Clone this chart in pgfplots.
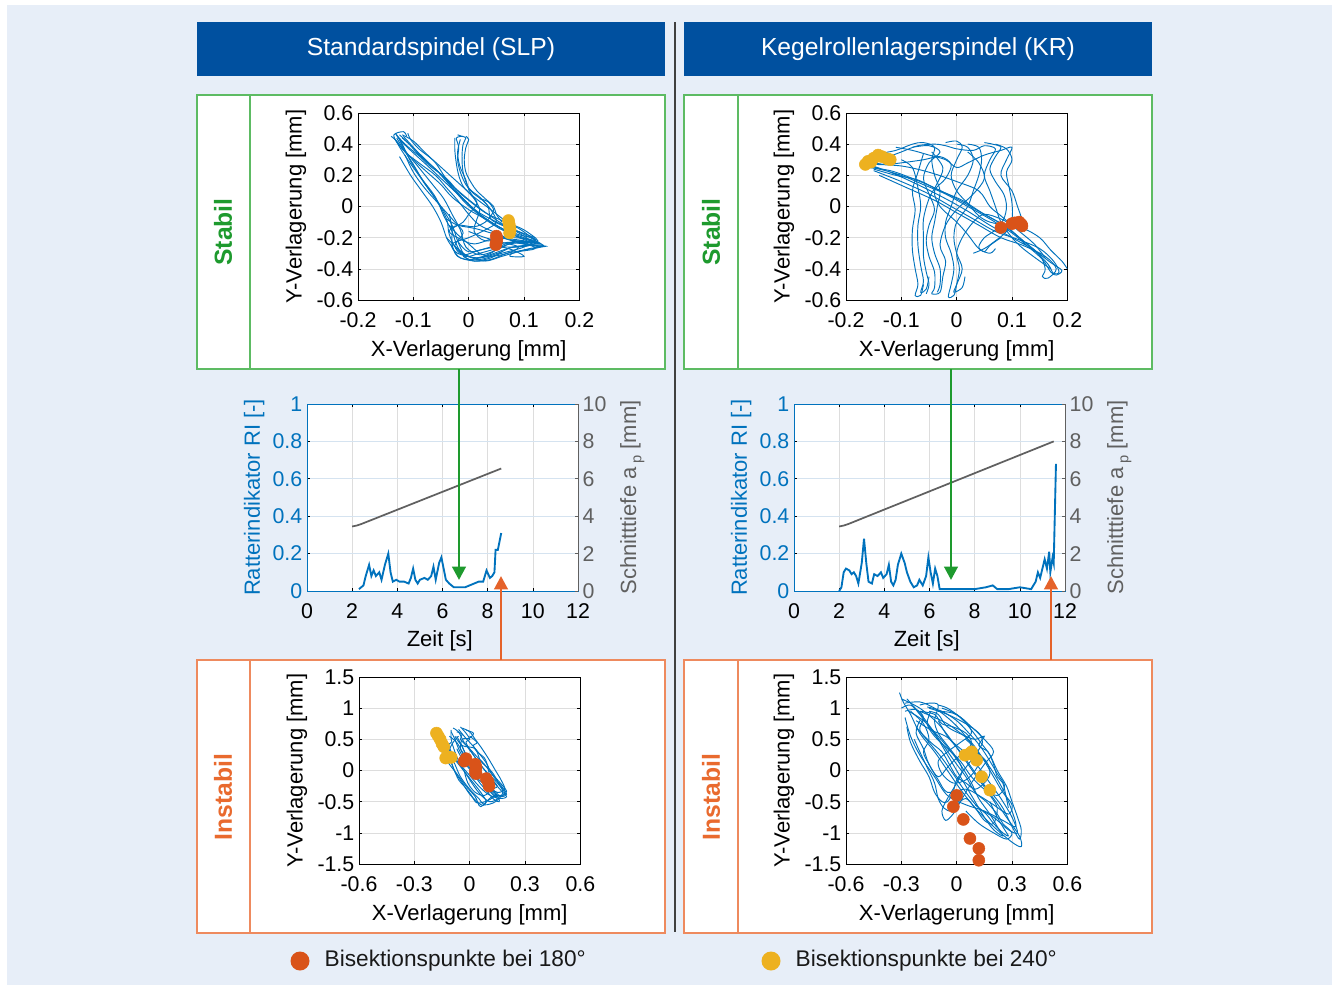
\documentclass[border=0pt]{standalone}
\usepackage{pgfplots}
\pgfplotsset{compat=1.18}
\usepackage{fontspec}
\setmainfont{Liberation Sans}
\usetikzlibrary{arrows.meta}
\definecolor{bg}{HTML}{E7EEF8}
\definecolor{hdr}{HTML}{00509F}
\definecolor{mblue}{HTML}{0072BD}
\definecolor{mred}{HTML}{D95319}
\definecolor{myel}{HTML}{EDB120}
\definecolor{gframe}{HTML}{5DBB63}
\definecolor{oframe}{HTML}{EE8A5E}
\definecolor{gtext}{HTML}{1E9A2E}
\definecolor{otext}{HTML}{E96A2E}
\definecolor{garrow}{HTML}{1E9A2E}
\definecolor{oarrow}{HTML}{E5622A}
\definecolor{dgrey}{HTML}{606060}
\definecolor{gridc}{HTML}{DDDDDD}
\definecolor{gridb}{HTML}{D5E3F0}

\pgfplotsset{
 common/.style={
   scale only axis,
   axis background/.style={fill=white},
   tick align=inside, major tick length=2.5pt,
   tick style={black, line width=0.5pt},
   axis line style={line width=0.6pt},
   ticklabel style={font=\fontsize{16}{18}\selectfont},
   label style={font=\fontsize{16.5}{19}\selectfont},
   /pgf/number format/assume math mode=true,
   grid=major,
   major grid style={gridc, line width=0.5pt},
 },
 orbit/.style={common, width=166pt, height=140.25pt,
   xlabel={X-Verlagerung [mm]}, ylabel={Y-Verlagerung [mm]},
   xlabel style={at={(axis description cs:0.5,-0.27)}, anchor=center},
   ylabel style={at={(axis description cs:-0.28,0.5)}, anchor=center},
   xticklabel style={yshift=-6pt},
 },
 orbS/.style={orbit, xmin=-0.2, xmax=0.2, ymin=-0.6, ymax=0.6,
   xtick={-0.2,-0.1,0,0.1,0.2}, ytick={-0.6,-0.4,-0.2,0,0.2,0.4,0.6}},
 orbI/.style={orbit, xmin=-0.6, xmax=0.6, ymin=-1.5, ymax=1.5,
   xtick={-0.6,-0.3,0,0.3,0.6}, ytick={-1.5,-1,-0.5,0,0.5,1,1.5},
   xlabel style={at={(axis description cs:0.5,-0.27)}, anchor=center}},
 orb/.style={mblue, line width=0.7pt, smooth, tension=0.55, no marks},
 bisR/.style={only marks, mark=*, mark size=4.5pt, mark options={draw=mred, fill=mred}},
 bisY/.style={only marks, mark=*, mark size=4.5pt, mark options={draw=myel, fill=myel}},
 timeL/.style={common, width=203.25pt, height=140.25pt,
   xmin=0, xmax=12, ymin=0, ymax=1,
   xtick={0,2,4,6,8,10,12}, ytick={0,0.2,0.4,0.6,0.8,1},
   ytick pos=left,
   x grid style={gridc}, y grid style={gridb},
   y axis line style={mblue},
   yticklabel style={mblue},
   xticklabel style={yshift=-6pt},
   xlabel={Zeit [s]}, ylabel={Ratterindikator RI [-]},
   ylabel style={mblue, at={(axis description cs:-0.195,0.5)}, anchor=center},
   xlabel style={at={(axis description cs:0.49,-0.265)}, anchor=center},
 },
 timeR/.style={common, grid=none, width=203.25pt, height=140.25pt,
   axis background/.style={},
   xmin=0, xmax=12, ymin=0, ymax=10,
   axis x line=none, axis y line*=right,
   ytick={0,2,4,6,8,10},
   y axis line style={dgrey}, tick style={dgrey},
   yticklabel style={dgrey},
   ylabel={Schnitttiefe a\,\raisebox{-0.45ex}{\fontsize{11}{11}\selectfont p} [mm]},
   ylabel style={dgrey, at={(axis description cs:1.2,0.5)}, anchor=center},
 },
}

\begin{document}
\begin{tikzpicture}
\begin{scope}[x=0.75pt,y=-0.75pt]
\fill[white] (0,0) rectangle (1338,985);
\fill[bg] (7,5) rectangle (1332,985);
\fill[hdr] (197,22) rectangle (665,76);
\fill[hdr] (684,22) rectangle (1152,76);
\node[white,font=\fontsize{18.5}{20}\selectfont] at (431,49) {Standardspindel (SLP)};
\node[white,font=\fontsize{18.5}{20}\selectfont] at (918,49) {Kegelrollenlagerspindel (KR)};
\draw[black!75, line width=1pt] (675,22) -- (675,932);
\draw[gframe, line width=1pt, fill=white] (197,95) rectangle (665,369);
\draw[gframe, line width=1pt] (250,95) -- (250,369);
\draw[gframe, line width=1pt, fill=white] (684,95) rectangle (1152,369);
\draw[gframe, line width=1pt] (738,95) -- (738,369);
\draw[oframe, line width=1pt, fill=white] (197,660) rectangle (665,933);
\draw[oframe, line width=1pt] (250,660) -- (250,933);
\draw[oframe, line width=1pt, fill=white] (684,660) rectangle (1152,933);
\draw[oframe, line width=1pt] (738,660) -- (738,933);
\node[rotate=90, gtext, font=\bfseries\fontsize{18.5}{20}\selectfont] at (223,232) {Stabil};
\node[rotate=90, gtext, font=\bfseries\fontsize{18.5}{20}\selectfont] at (711,232) {Stabil};
\node[rotate=90, otext, font=\bfseries\fontsize{18.5}{20}\selectfont] at (223,797) {Instabil};
\node[rotate=90, otext, font=\bfseries\fontsize{18.5}{20}\selectfont] at (711,797) {Instabil};
\end{scope}

% ---------- top left: SLP stable ----------
\begin{axis}[orbS, at={(358*0.75pt,-300*0.75pt)}, anchor=south west]
\addplot[orb] coordinates {(-0.132,0.47) (-0.125,0.43) (-0.105,0.36) (-0.08,0.28) (-0.05,0.18) (-0.02,0.08) (0.01,-0.02) (0.04,-0.10) (0.07,-0.16) (0.10,-0.20) (0.135,-0.25) (0.10,-0.25) (0.07,-0.27) (0.03,-0.32) (0.0,-0.34) (-0.01,-0.30) (-0.02,-0.22) (-0.03,-0.12) (-0.05,0.0) (-0.07,0.10) (-0.09,0.20) (-0.11,0.30) (-0.128,0.40) (-0.135,0.46) (-0.118,0.48) (-0.112,0.45)};
\addplot[orb] coordinates {(-0.118,0.45) (-0.10,0.38) (-0.085,0.32) (-0.06,0.24) (-0.035,0.15) (-0.01,0.05) (0.02,-0.05) (0.05,-0.12) (0.08,-0.18) (0.12,-0.23) (0.13,-0.24) (0.09,-0.22) (0.06,-0.25) (0.04,-0.30) (0.01,-0.33) (-0.02,-0.28) (-0.035,-0.18) (-0.04,-0.08) (-0.06,0.05) (-0.08,0.15) (-0.10,0.27) (-0.12,0.38) (-0.13,0.44)};
\addplot[orb] coordinates {(-0.125,0.46) (-0.11,0.41) (-0.09,0.33) (-0.07,0.26) (-0.04,0.18) (-0.02,0.10) (0.0,0.04) (0.03,-0.04) (0.06,-0.09) (0.09,-0.14) (0.11,-0.19) (0.12,-0.22) (0.08,-0.23) (0.05,-0.28) (0.02,-0.31) (-0.005,-0.26) (-0.015,-0.15) (-0.03,-0.05) (-0.045,0.05) (-0.065,0.14) (-0.09,0.25) (-0.115,0.36) (-0.125,0.43)};
\addplot[orb] coordinates {(-0.12,0.44) (-0.095,0.36) (-0.075,0.29) (-0.055,0.22) (-0.03,0.12) (-0.005,0.02) (0.025,-0.07) (0.055,-0.14) (0.085,-0.19) (0.115,-0.24) (0.09,-0.26) (0.05,-0.26) (0.02,-0.28) (-0.01,-0.31) (-0.025,-0.25) (-0.01,-0.17) (-0.025,-0.1) (-0.055,0.02) (-0.08,0.12) (-0.10,0.22) (-0.115,0.33)};
\addplot[orb] coordinates {(-0.128,0.45) (-0.115,0.40) (-0.095,0.34) (-0.07,0.27) (-0.045,0.19) (-0.025,0.12) (0.005,0.03) (0.035,-0.05) (0.065,-0.12) (0.095,-0.17) (0.125,-0.23) (0.10,-0.23) (0.075,-0.24) (0.05,-0.27) (0.02,-0.30) (-0.005,-0.32) (-0.02,-0.26) (-0.03,-0.16) (-0.045,-0.06) (-0.06,0.06) (-0.085,0.18) (-0.105,0.29) (-0.12,0.40) (-0.13,0.46)};
\addplot[orb] coordinates {(-0.135,0.44) (-0.12,0.37) (-0.10,0.30) (-0.075,0.22) (-0.05,0.14) (-0.03,0.06) (0.0,-0.02) (0.03,-0.08) (0.06,-0.14) (0.09,-0.18) (0.12,-0.21) (0.10,-0.26) (0.06,-0.30) (0.02,-0.34) (-0.015,-0.33) (-0.03,-0.26) (-0.04,-0.20) (-0.05,-0.10) (-0.065,0.0) (-0.085,0.10) (-0.105,0.20) (-0.125,0.32)};
\addplot[orb] coordinates {(-0.14,0.45) (-0.13,0.42) (-0.115,0.35) (-0.09,0.28) (-0.06,0.20) (-0.04,0.12) (-0.02,0.04) (0.0,-0.05) (0.02,-0.12) (0.05,-0.17) (0.08,-0.22) (0.11,-0.25) (0.13,-0.26) (0.10,-0.28) (0.07,-0.30) (0.04,-0.34) (0.01,-0.35) (-0.02,-0.32) (-0.03,-0.24) (-0.03,-0.15) (-0.035,-0.05)};
\addplot[orb] coordinates {(-0.12,0.46) (-0.10,0.42) (-0.08,0.35) (-0.06,0.28) (-0.045,0.20) (-0.03,0.12) (-0.01,0.05) (0.015,-0.03) (0.045,-0.09) (0.075,-0.14) (0.10,-0.19) (0.12,-0.24)};
\addplot[orb] coordinates {(-0.11,0.47) (-0.105,0.43) (-0.09,0.37) (-0.065,0.30) (-0.04,0.22) (-0.015,0.14) (0.01,0.06) (0.04,-0.02) (0.07,-0.10) (0.10,-0.15) (0.125,-0.22) (0.11,-0.25) (0.08,-0.26) (0.06,-0.29) (0.04,-0.33) (0.01,-0.35) (-0.01,-0.32)};
\addplot[orb] coordinates {(-0.04,-0.20) (-0.02,-0.27) (0.0,-0.32) (0.03,-0.35) (0.06,-0.32) (0.09,-0.29) (0.12,-0.27) (0.10,-0.23) (0.07,-0.21) (0.04,-0.17) (0.01,-0.14) (-0.02,-0.12) (-0.04,-0.08)};
\addplot[orb] coordinates {(-0.035,-0.12) (-0.02,-0.18) (0.0,-0.24) (0.02,-0.30) (0.04,-0.32) (0.07,-0.30) (0.09,-0.26) (0.06,-0.23) (0.03,-0.20) (0.0,-0.16)};
\addplot[orb] coordinates {(0.06,-0.20) (0.09,-0.23) (0.12,-0.25) (0.14,-0.255) (0.11,-0.27) (0.08,-0.30) (0.075,-0.32) (0.10,-0.32) (0.08,-0.28) (0.05,-0.25)};
\addplot[orb] coordinates {(-0.02,0.46) (-0.012,0.45) (-0.005,0.44) (-0.01,0.40) (-0.012,0.32) (-0.01,0.22) (0.0,0.12) (0.02,0.06) (0.035,0.0) (0.04,-0.08) (0.06,-0.12) (0.09,-0.16) (0.12,-0.2)};
\addplot[orb] coordinates {(-0.01,0.45) (-0.022,0.44) (-0.018,0.38) (-0.02,0.30) (-0.015,0.22) (-0.005,0.14) (0.01,0.08) (0.025,0.04) (0.04,-0.02) (0.05,-0.10) (0.03,-0.15) (0.0,-0.2) (-0.03,-0.24) (-0.02,-0.3) (0.02,-0.33) (0.06,-0.29)};
\addplot[orb] coordinates {(-0.015,0.43) (-0.02,0.35) (-0.016,0.26) (-0.005,0.17) (0.0,0.11) (0.01,0.05) (0.02,-0.02) (0.015,-0.08) (0.01,-0.16) (0.03,-0.22) (0.07,-0.2) (0.11,-0.21) (0.13,-0.24) (0.10,-0.24) (0.07,-0.23) (0.04,-0.26) (0.0,-0.29) (-0.02,-0.22)};
\addplot[orb] coordinates {(-0.005,0.45) (0.0,0.43) (-0.005,0.38) (-0.008,0.30) (-0.005,0.22) (0.005,0.15) (0.015,0.10) (0.03,0.05) (0.045,0.0) (0.05,-0.05) (0.06,-0.10)};
\addplot[orb] coordinates {(-0.025,0.44) (-0.025,0.36) (-0.022,0.27) (-0.018,0.20) (-0.01,0.13) (0.005,0.07) (0.015,0.02) (0.0,-0.05) (-0.01,-0.10) (-0.03,-0.14)};
\addplot[orb] coordinates {(0.02,0.05) (0.035,0.03) (0.045,-0.02) (0.04,-0.06) (0.03,-0.1) (0.01,-0.13) (-0.02,-0.12) (-0.035,-0.16) (-0.02,-0.2) (0.01,-0.24) (0.05,-0.2) (0.08,-0.21) (0.10,-0.22)};
\addplot[bisY] coordinates {(0.072,-0.09) (0.073,-0.11) (0.074,-0.13) (0.075,-0.15) (0.074,-0.17)};
\addplot[bisR] coordinates {(0.05,-0.19) (0.051,-0.21) (0.05,-0.23) (0.049,-0.245)};
\end{axis}

% ---------- top right: KR stable ----------
\begin{axis}[orbS, at={(846*0.75pt,-300*0.75pt)}, anchor=south west]
\addplot[orb] coordinates {(-0.165,0.26) (-0.14,0.24) (-0.10,0.20) (-0.06,0.14) (-0.02,0.08) (0.02,0.0) (0.06,-0.08) (0.10,-0.17) (0.13,-0.26) (0.155,-0.34) (0.17,-0.42) (0.18,-0.44) (0.19,-0.41) (0.17,-0.36) (0.14,-0.28) (0.10,-0.20) (0.06,-0.12) (0.02,-0.03) (-0.02,0.05) (-0.07,0.14) (-0.12,0.22) (-0.16,0.27)};
\addplot[orb] coordinates {(-0.15,0.24) (-0.11,0.20) (-0.07,0.17) (-0.03,0.10) (0.01,0.04) (0.05,-0.05) (0.09,-0.13) (0.12,-0.22) (0.15,-0.31) (0.16,-0.40) (0.155,-0.45) (0.165,-0.46) (0.18,-0.40) (0.16,-0.32) (0.12,-0.25) (0.08,-0.20) (0.04,-0.12) (0.0,-0.04) (-0.04,0.04) (-0.09,0.12) (-0.14,0.20)};
\addplot[orb] coordinates {(-0.16,0.25) (-0.12,0.23) (-0.08,0.18) (-0.04,0.12) (0.0,0.05) (0.04,-0.03) (0.08,-0.11) (0.11,-0.19) (0.14,-0.28) (0.165,-0.37) (0.175,-0.43) (0.185,-0.42) (0.175,-0.35) (0.15,-0.27) (0.11,-0.21) (0.07,-0.16) (0.03,-0.08) (-0.01,0.0) (-0.05,0.08) (-0.10,0.16) (-0.15,0.23)};
\addplot[orb] coordinates {(-0.15,0.27) (-0.10,0.26) (-0.05,0.22) (0.0,0.16) (0.04,0.10) (0.06,0.0) (0.08,-0.06) (0.11,-0.15) (0.14,-0.24) (0.16,-0.33)};
\addplot[orb] coordinates {(-0.13,0.31) (-0.10,0.35) (-0.07,0.39) (-0.04,0.40) (-0.02,0.39) (0.0,0.37) (0.03,0.36) (0.05,0.39) (0.07,0.37) (0.06,0.30) (0.05,0.20) (0.06,0.10) (0.07,0.0) (0.08,-0.10) (0.10,-0.20) (0.12,-0.27) (0.15,-0.35) (0.17,-0.40)};
\addplot[orb] coordinates {(-0.14,0.34) (-0.11,0.36) (-0.08,0.40) (-0.06,0.41) (-0.04,0.38) (-0.045,0.30) (-0.04,0.20) (-0.03,0.10) (-0.035,0.0) (-0.04,-0.10) (-0.045,-0.20) (-0.04,-0.30) (-0.03,-0.40) (-0.03,-0.50) (-0.035,-0.55)};
\addplot[orb] coordinates {(-0.045,0.35) (-0.025,0.25) (-0.035,0.15) (-0.05,0.05) (-0.06,-0.08) (-0.06,-0.20) (-0.06,-0.32) (-0.055,-0.42) (-0.05,-0.50) (-0.055,-0.56)};
\addplot[orb] coordinates {(-0.08,0.38) (-0.05,0.39) (-0.03,0.35) (-0.05,0.28) (-0.06,0.18) (-0.05,0.08) (-0.04,-0.02) (-0.05,-0.12) (-0.055,-0.22) (-0.05,-0.32) (-0.04,-0.42) (-0.04,-0.52) (-0.045,-0.56) (-0.03,-0.55) (-0.025,-0.45) (-0.02,-0.35) (-0.03,-0.25) (-0.02,-0.12) (0.0,-0.02) (0.03,0.08) (0.05,0.18) (0.04,0.28) (0.02,0.35)};
\addplot[orb] coordinates {(0.0,0.40) (0.02,0.38) (0.03,0.30) (0.02,0.20) (0.0,0.10) (-0.01,0.0) (-0.02,-0.10) (-0.02,-0.20) (-0.01,-0.30) (-0.005,-0.40) (-0.01,-0.50) (-0.015,-0.58) (-0.005,-0.57) (0.0,-0.50) (0.005,-0.40) (0.0,-0.3) (0.01,-0.2) (0.03,-0.1) (0.05,-0.05) (0.08,-0.08) (0.10,-0.12)};
\addplot[orb] coordinates {(0.02,0.40) (0.04,0.38) (0.045,0.30) (0.04,0.20) (0.03,0.10) (0.02,0.0) (0.0,-0.10) (-0.005,-0.20) (0.0,-0.30) (0.01,-0.40) (0.0,-0.50) (-0.005,-0.55) (0.01,-0.52) (0.015,-0.45)};
\addplot[orb] coordinates {(0.05,0.41) (0.065,0.40) (0.08,0.38) (0.07,0.32) (0.06,0.24) (0.07,0.16) (0.085,0.08) (0.09,0.0) (0.085,-0.08) (0.07,-0.15) (0.05,-0.20) (0.04,-0.26) (0.05,-0.29) (0.06,-0.25) (0.08,-0.2)};
\addplot[orb] coordinates {(0.07,0.40) (0.09,0.37) (0.10,0.30) (0.09,0.22) (0.095,0.12) (0.10,0.02) (0.10,-0.08) (0.09,-0.16) (0.07,-0.22) (0.05,-0.27) (0.03,-0.30)};
\addplot[orb] coordinates {(-0.10,0.30) (-0.08,0.25) (-0.07,0.12) (-0.065,0.0) (-0.07,-0.12) (-0.07,-0.25) (-0.065,-0.38) (-0.06,-0.48) (-0.065,-0.55) (-0.055,-0.53) (-0.05,-0.45)};
\addplot[orb] coordinates {(-0.06,0.34) (-0.07,0.22) (-0.08,0.10) (-0.075,-0.02) (-0.08,-0.15) (-0.08,-0.28) (-0.075,-0.40) (-0.07,-0.50) (-0.075,-0.57) (-0.065,-0.57) (-0.06,-0.50)};
\addplot[orb] coordinates {(-0.11,0.38) (-0.08,0.36) (-0.05,0.33) (-0.02,0.30) (0.0,0.25) (0.02,0.28) (0.05,0.33) (0.08,0.36) (0.10,0.38) (0.09,0.30) (0.08,0.20) (0.10,0.10) (0.11,0.0) (0.12,-0.10)};
\addplot[orb] coordinates {(-0.02,0.41) (0.0,0.42) (0.01,0.38) (0.0,0.30) (-0.01,0.20) (0.0,0.10) (0.02,0.02) (0.04,-0.06) (0.06,-0.10) (0.09,-0.12) (0.12,-0.14) (0.15,-0.20) (0.17,-0.28) (0.19,-0.35) (0.20,-0.40)};
\addplot[orb] coordinates {(-0.16,0.29) (-0.13,0.27) (-0.10,0.28) (-0.06,0.30) (-0.03,0.32) (-0.01,0.27) (-0.02,0.18) (-0.04,0.10) (-0.03,0.0) (0.0,-0.10) (0.02,-0.18) (0.04,-0.27) (0.06,-0.30) (0.07,-0.27)};
\addplot[bisY] coordinates {(-0.165,0.27) (-0.16,0.29) (-0.15,0.31) (-0.142,0.33) (-0.135,0.32) (-0.125,0.305) (-0.12,0.30) (-0.155,0.285)};
\addplot[bisR] coordinates {(0.08,-0.135) (0.10,-0.11) (0.105,-0.105) (0.113,-0.10) (0.117,-0.115) (0.118,-0.125)};
\end{axis}

% ---------- middle left: time SLP ----------
\begin{axis}[timeL, at={(307*0.75pt,-591*0.75pt)}, anchor=south west]
\addplot[mblue, line width=1.4pt, no marks] coordinates {(2.3,0.01) (2.5,0.03) (2.6,0.08) (2.75,0.14) (2.85,0.08) (2.95,0.11) (3.05,0.08) (3.2,0.10) (3.3,0.06) (3.45,0.14) (3.6,0.20) (3.7,0.10) (3.8,0.05) (3.95,0.06) (4.1,0.05) (4.3,0.05) (4.5,0.04) (4.6,0.07) (4.7,0.12) (4.8,0.06) (4.9,0.04) (5.0,0.06) (5.2,0.07) (5.35,0.06) (5.5,0.08) (5.6,0.13) (5.7,0.06) (5.85,0.15) (5.95,0.18) (6.05,0.12) (6.15,0.06) (6.3,0.04) (6.5,0.02) (6.8,0.02) (7.0,0.02) (7.2,0.03) (7.4,0.04) (7.6,0.05) (7.8,0.05) (7.95,0.11) (8.1,0.07) (8.2,0.08) (8.3,0.10) (8.35,0.22) (8.45,0.22) (8.5,0.25) (8.6,0.31)};
\end{axis}
\begin{axis}[timeR, at={(307*0.75pt,-591*0.75pt)}, anchor=south west]
\addplot[dgrey, line width=1.3pt, no marks] coordinates {(2.0,3.45) (2.2,3.5) (2.4,3.58) (8.6,6.55)};
\end{axis}

% ---------- middle right: time KR ----------
\begin{axis}[timeL, at={(794*0.75pt,-591*0.75pt)}, anchor=south west]
\addplot[mblue, line width=1.4pt, no marks] coordinates {(2.0,0.0) (2.1,0.02) (2.2,0.10) (2.3,0.12) (2.45,0.11) (2.55,0.09) (2.65,0.10) (2.75,0.08) (2.85,0.04) (3.0,0.15) (3.1,0.28) (3.2,0.15) (3.3,0.05) (3.45,0.04) (3.55,0.09) (3.7,0.08) (3.85,0.10) (3.95,0.07) (4.1,0.09) (4.2,0.14) (4.3,0.05) (4.4,0.03) (4.5,0.06) (4.6,0.14) (4.75,0.20) (4.9,0.15) (5.0,0.10) (5.15,0.05) (5.3,0.02) (5.45,0.03) (5.55,0.06) (5.7,0.03) (5.85,0.08) (5.95,0.18) (6.05,0.10) (6.15,0.04) (6.25,0.12) (6.35,0.08) (6.45,0.01) (6.6,0.01) (7.5,0.01) (8.0,0.01) (8.5,0.02) (8.8,0.03) (9.0,0.01) (9.5,0.01) (10.0,0.02) (10.5,0.01) (10.7,0.05) (10.8,0.10) (10.9,0.07) (11.0,0.12) (11.1,0.17) (11.2,0.12) (11.3,0.21) (11.35,0.10) (11.45,0.18) (11.5,0.15) (11.6,0.68)};
\end{axis}
\begin{axis}[timeR, at={(794*0.75pt,-591*0.75pt)}, anchor=south west]
\addplot[dgrey, line width=1.3pt, no marks] coordinates {(2.0,3.45) (2.2,3.5) (2.4,3.58) (11.5,8.0)};
\end{axis}

% ---------- bottom left: SLP unstable ----------
\begin{axis}[orbI, at={(359*0.75pt,-864*0.75pt)}, anchor=south west]
\addplot[orb] coordinates {(-0.09,0.68) (-0.06,0.62) (-0.03,0.45) (0.02,0.25) (0.07,0.05) (0.12,-0.15) (0.17,-0.32) (0.20,-0.42) (0.16,-0.45) (0.10,-0.38) (0.05,-0.25) (0.0,-0.08) (-0.05,0.10) (-0.08,0.30) (-0.10,0.50) (-0.10,0.65)};
\addplot[orb] coordinates {(-0.05,0.70) (-0.02,0.60) (0.0,0.50) (-0.02,0.45) (0.01,0.30) (0.05,0.12) (0.10,-0.05) (0.15,-0.20) (0.18,-0.35) (0.14,-0.50) (0.08,-0.55) (0.05,-0.45) (0.0,-0.30) (-0.05,-0.10) (-0.08,0.10) (-0.11,0.30) (-0.09,0.45) (-0.06,0.55)};
\addplot[orb] coordinates {(-0.08,0.55) (-0.04,0.40) (0.03,0.35) (0.06,0.15) (0.12,-0.02) (0.16,-0.22) (0.19,-0.38) (0.12,-0.42) (0.06,-0.58) (0.03,-0.42) (-0.02,-0.25) (-0.07,-0.05) (-0.12,0.15) (-0.13,0.35) (-0.10,0.45)};
\addplot[orb] coordinates {(-0.02,0.65) (0.02,0.60) (0.0,0.52) (-0.04,0.50) (-0.05,0.35) (-0.02,0.20) (0.02,0.05) (0.06,-0.10) (0.10,-0.25) (0.14,-0.38) (0.10,-0.48) (0.04,-0.52) (0.01,-0.40) (-0.03,-0.25) (-0.06,-0.15) (-0.09,0.05) (-0.11,0.20)};
\addplot[orb] coordinates {(-0.07,0.62) (-0.04,0.58) (-0.05,0.50) (-0.01,0.38) (0.04,0.22) (0.08,0.10) (0.13,-0.10) (0.18,-0.28) (0.20,-0.38) (0.17,-0.42) (0.13,-0.32) (0.08,-0.22) (0.04,-0.12) (0.0,0.02) (-0.04,0.18) (-0.07,0.35)};
\addplot[orb] coordinates {(-0.12,0.40) (-0.10,0.25) (-0.06,0.10) (-0.02,-0.05) (0.02,-0.20) (0.06,-0.35) (0.09,-0.50) (0.07,-0.56) (0.04,-0.50) (0.0,-0.38) (-0.04,-0.20) (-0.08,-0.02) (-0.10,0.15)};
\addplot[orb] coordinates {(-0.04,0.68) (0.0,0.62) (0.03,0.50) (0.06,0.38) (0.10,0.20) (0.14,0.0) (0.17,-0.15) (0.19,-0.30) (0.15,-0.35) (0.10,-0.25) (0.06,-0.10) (0.02,0.05) (-0.02,0.25) (-0.05,0.45)};
\addplot[orb] coordinates {(-0.10,0.62) (-0.08,0.50) (-0.06,0.35) (-0.03,0.18) (0.01,0.0) (0.05,-0.18) (0.09,-0.32) (0.13,-0.46) (0.16,-0.50) (0.15,-0.40) (0.11,-0.30) (0.07,-0.15) (0.03,0.02) (-0.01,0.20) (-0.04,0.38) (-0.07,0.55)};
\addplot[orb] coordinates {(0.0,0.55) (0.04,0.45) (0.02,0.40) (0.04,0.30) (0.08,0.20) (0.10,0.05) (0.11,-0.10) (0.15,-0.25) (0.12,-0.30) (0.08,-0.40) (0.03,-0.35) (-0.01,-0.20) (-0.03,0.0)};
\addplot[orb] coordinates {(-0.11,0.55) (-0.07,0.45) (-0.04,0.30) (0.0,0.15) (0.04,-0.02) (0.08,-0.18) (0.12,-0.35) (0.15,-0.45) (0.11,-0.50) (0.07,-0.42) (0.03,-0.28) (-0.01,-0.10) (-0.05,0.08) (-0.09,0.25) (-0.12,0.42)};
\addplot[orb] coordinates {(-0.06,0.66) (-0.03,0.55) (0.01,0.42) (0.05,0.28) (0.09,0.12) (0.12,-0.05) (0.16,-0.18) (0.20,-0.33) (0.18,-0.40) (0.14,-0.42) (0.10,-0.30)};
\addplot[bisY] coordinates {(-0.18,0.60) (-0.17,0.55) (-0.16,0.50) (-0.15,0.43) (-0.14,0.38) (-0.12,0.22) (-0.10,0.21) (-0.13,0.20)};
\addplot[bisR] coordinates {(-0.02,0.19) (-0.03,0.15) (0.03,0.10) (0.035,0.05) (0.03,-0.02) (0.035,-0.05) (0.09,-0.13) (0.10,-0.18) (0.105,-0.25)};
\end{axis}

% ---------- bottom right: KR unstable ----------
\begin{axis}[orbI, at={(846*0.75pt,-864*0.75pt)}, anchor=south west]
\addplot[orb] coordinates {(-0.31,1.25) (-0.29,1.10) (-0.25,0.90) (-0.20,0.60) (-0.12,0.30) (-0.05,0.0) (0.02,-0.30) (0.10,-0.60) (0.20,-0.90) (0.30,-1.15) (0.35,-1.22) (0.34,-1.05) (0.27,-0.75) (0.20,-0.45) (0.12,-0.15) (0.05,0.15) (-0.02,0.45) (-0.10,0.75) (-0.20,1.00) (-0.30,1.15)};
\addplot[orb] coordinates {(-0.28,1.08) (-0.20,1.10) (-0.12,1.00) (-0.05,0.85) (0.02,0.65) (0.10,0.35) (0.18,0.05) (0.25,-0.30) (0.30,-0.65) (0.32,-0.90) (0.25,-0.80) (0.15,-0.65) (0.05,-0.55) (-0.05,-0.40) (-0.12,-0.10) (-0.20,0.25) (-0.25,0.55) (-0.28,0.85)};
\addplot[orb] coordinates {(-0.20,1.05) (-0.15,1.08) (-0.10,1.05) (-0.12,0.80) (-0.10,0.60) (-0.05,0.40) (0.0,0.20) (0.03,0.0) (0.0,-0.20) (-0.05,-0.45) (-0.08,-0.65) (-0.06,-0.80) (-0.02,-0.70) (0.02,-0.50) (0.08,-0.20) (0.15,0.10) (0.20,0.30) (0.15,0.50) (0.08,0.70) (0.0,0.90) (-0.08,1.00)};
\addplot[orb] coordinates {(-0.25,0.95) (-0.18,0.75) (-0.15,0.50) (-0.18,0.30) (-0.15,0.10) (-0.10,-0.15) (-0.05,-0.35) (0.05,-0.30) (0.12,-0.40) (0.20,-0.55) (0.28,-0.70) (0.30,-0.55) (0.25,-0.35) (0.20,-0.10) (0.14,0.20) (0.08,0.45) (0.02,0.60) (-0.05,0.75) (-0.12,0.85) (-0.20,0.95)};
\addplot[orb] coordinates {(0.05,-0.65) (0.12,-0.85) (0.20,-1.00) (0.27,-1.10) (0.30,-1.00) (0.25,-0.85) (0.22,-0.70) (0.16,-0.50) (0.10,-0.35) (0.05,-0.10) (0.0,0.10) (-0.06,0.35) (-0.12,0.60) (-0.18,0.85) (-0.24,1.05) (-0.27,1.15)};
\addplot[orb] coordinates {(-0.22,0.80) (-0.14,0.65) (-0.06,0.55) (0.0,0.40) (0.06,0.25) (0.12,0.05) (0.18,-0.20) (0.24,-0.45) (0.30,-0.75) (0.33,-1.00) (0.28,-0.95) (0.20,-0.75) (0.12,-0.60) (0.05,-0.35) (-0.02,-0.05) (-0.08,0.20) (-0.15,0.45) (-0.22,0.70)};
\addplot[orb] coordinates {(-0.16,1.02) (-0.08,0.95) (0.0,0.80) (0.06,0.62) (0.12,0.42) (0.17,0.20) (0.22,-0.05) (0.26,-0.25) (0.22,-0.40) (0.15,-0.30) (0.08,-0.10) (0.02,0.15) (-0.05,0.35) (-0.12,0.55) (-0.16,0.75) (-0.14,0.95)};
\addplot[orb] coordinates {(-0.30,1.00) (-0.25,1.05) (-0.20,0.90) (-0.15,0.70) (-0.10,0.50) (-0.05,0.25) (0.0,0.0) (0.05,-0.25) (0.10,-0.50) (0.15,-0.75) (0.20,-0.95) (0.25,-1.05) (0.22,-0.90) (0.18,-0.70) (0.12,-0.45) (0.08,-0.20) (0.03,0.05) (-0.03,0.30) (-0.10,0.55) (-0.18,0.80) (-0.26,0.95)};
\addplot[orb] coordinates {(-0.10,1.05) (-0.05,1.00) (0.02,0.85) (0.08,0.65) (0.13,0.45) (0.18,0.25) (0.22,0.0) (0.27,-0.25) (0.30,-0.50) (0.33,-0.75) (0.35,-0.95) (0.34,-1.10) (0.30,-0.90) (0.25,-0.60) (0.20,-0.40) (0.14,-0.20) (0.08,0.05) (0.02,0.30) (-0.05,0.55) (-0.10,0.80)};
\addplot[orb] coordinates {(-0.23,0.50) (-0.20,0.30) (-0.16,0.05) (-0.12,-0.20) (-0.10,-0.45) (-0.07,-0.60) (-0.03,-0.65) (0.0,-0.55) (0.05,-0.45) (0.10,-0.60) (0.15,-0.80) (0.20,-0.85) (0.22,-0.60) (0.18,-0.40)};
\addplot[orb] coordinates {(-0.15,0.95) (-0.10,0.90) (-0.05,0.70) (0.05,0.55) (0.10,0.50) (0.15,0.55) (0.12,0.40) (0.17,0.30) (0.20,0.10) (0.22,-0.10) (0.25,-0.20) (0.27,-0.45) (0.28,-0.60)};
\addplot[orb] coordinates {(-0.27,0.70) (-0.25,0.45) (-0.20,0.15) (-0.15,-0.10) (-0.12,-0.35) (-0.08,-0.50) (-0.05,-0.50) (-0.02,-0.35) (0.0,-0.15) (0.05,0.05) (0.10,0.25) (0.14,0.45) (0.12,0.60) (0.05,0.75) (-0.05,0.90) (-0.15,1.00)};
\addplot[orb] coordinates {(-0.20,0.95) (-0.12,0.90) (-0.08,0.75) (-0.02,0.70) (0.05,0.60) (0.08,0.45) (0.05,0.30) (0.0,0.20) (-0.05,0.05) (-0.10,-0.10) (-0.15,0.10) (-0.18,0.35) (-0.22,0.60) (-0.20,0.80)};
\addplot[orb] coordinates {(-0.10,0.95) (-0.02,0.92) (0.05,0.78) (0.08,0.60) (0.02,0.45) (-0.05,0.30) (-0.10,0.15) (-0.08,-0.05) (-0.02,-0.20) (0.05,-0.15) (0.10,0.0) (0.13,0.20) (0.10,0.35) (0.05,0.50)};
\addplot[orb] coordinates {(-0.28,0.95) (-0.22,0.98) (-0.18,0.85) (-0.20,0.65) (-0.14,0.45) (-0.08,0.30) (-0.04,0.10) (0.0,-0.10) (0.05,-0.20) (0.10,-0.30) (0.15,-0.20) (0.18,-0.05) (0.16,0.15) (0.10,0.30)};
\addplot[orb] coordinates {(0.18,-0.50) (0.22,-0.75) (0.26,-0.95) (0.28,-1.05) (0.25,-1.00) (0.20,-0.85) (0.16,-0.70) (0.10,-0.55)};
\addplot[bisY] coordinates {(0.045,0.245) (0.07,0.27) (0.081,0.30) (0.108,0.165) (0.135,-0.10) (0.18,-0.315)};
\addplot[bisR] coordinates {(0.0,-0.40) (-0.018,-0.58) (0.036,-0.785) (0.072,-1.09) (0.12,-1.25) (0.12,-1.44)};
\end{axis}

\begin{scope}[x=0.75pt,y=-0.75pt]
\draw[garrow, line width=2.2pt, -{Triangle[length=10pt,width=10pt]}] (459,369) -- (459,580);
\draw[garrow, line width=2.2pt, -{Triangle[length=10pt,width=10pt]}] (951,369) -- (951,580);
\draw[oarrow, line width=2.2pt, -{Triangle[length=10pt,width=10pt]}] (501,660) -- (501,576);
\draw[oarrow, line width=2.2pt, -{Triangle[length=10pt,width=10pt]}] (1051,660) -- (1051,576);
\fill[mred] (300,961) circle (9.5);
\node[anchor=west, text=black!90, font=\fontsize{17}{19}\selectfont] at (320,961) {Bisektionspunkte bei 180\textdegree};
\fill[myel] (771,961) circle (9.5);
\node[anchor=west, text=black!90, font=\fontsize{17}{19}\selectfont] at (791,961) {Bisektionspunkte bei 240\textdegree};
\end{scope}
\end{tikzpicture}
\end{document}
